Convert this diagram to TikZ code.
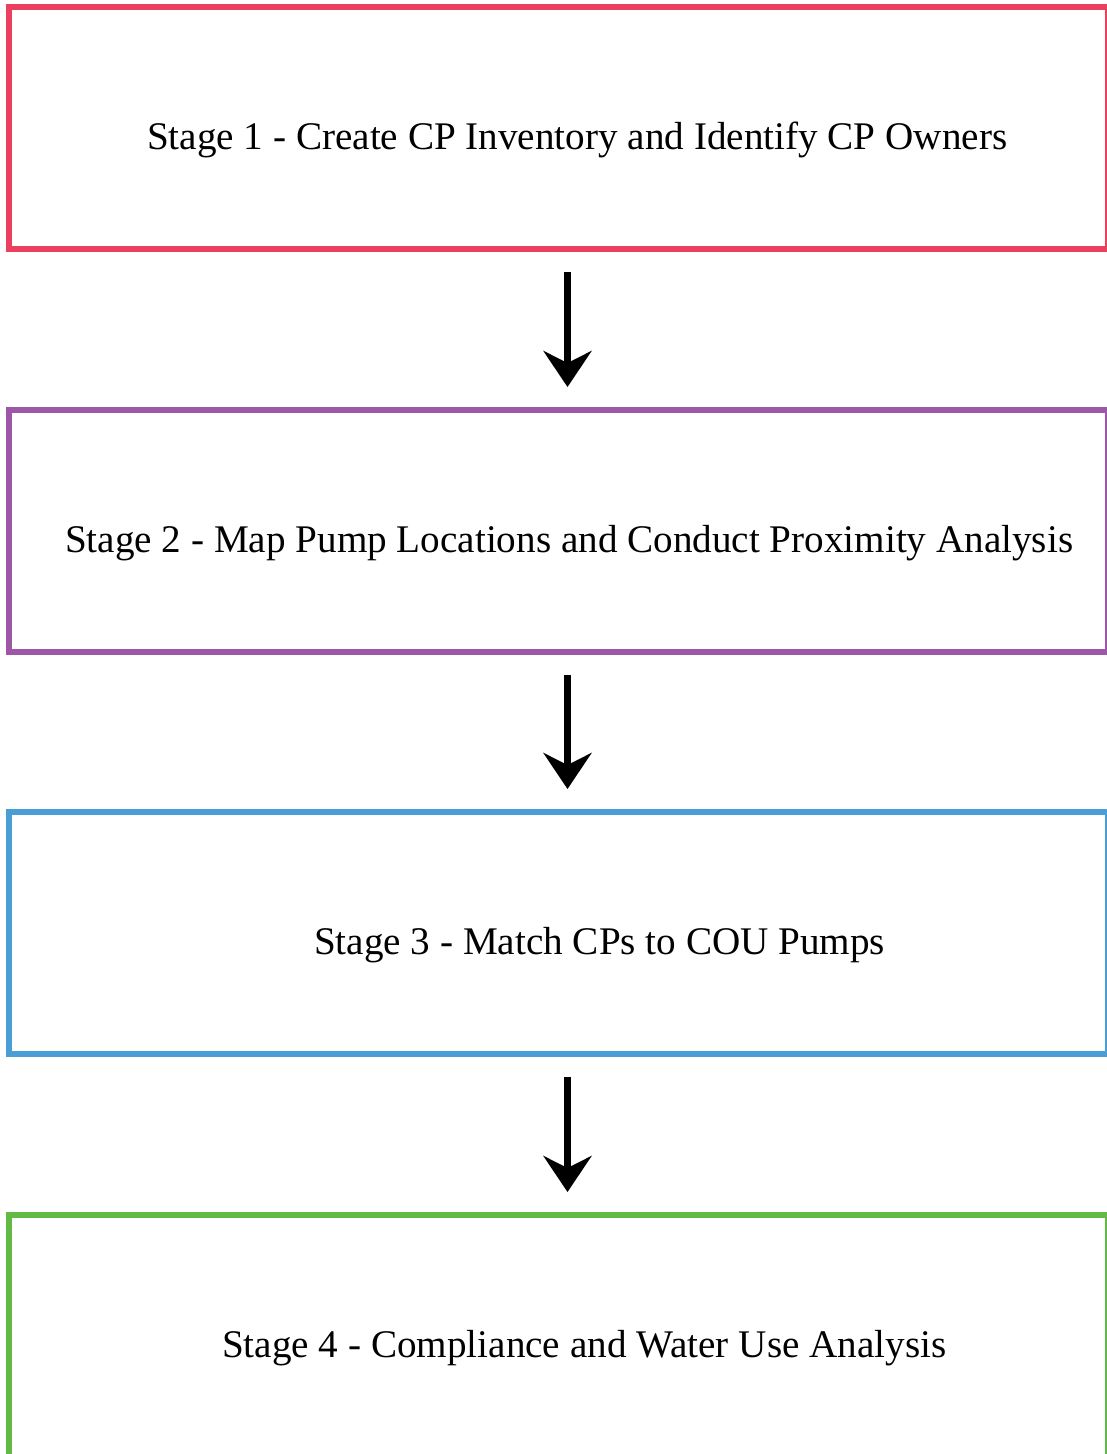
\documentclass[tikz,border=0pt]{standalone}
\usepackage{fontspec}
\setmainfont{Liberation Serif}
\usetikzlibrary{arrows.meta}
\definecolor{stageA}{RGB}{236,64,96}
\definecolor{stageB}{RGB}{158,86,166}
\definecolor{stageC}{RGB}{74,158,214}
\definecolor{stageD}{RGB}{96,186,68}
\tikzset{
  stagebox/.style={draw=#1, line width=6pt, rectangle, minimum width=1099pt, minimum height=242pt, inner sep=0pt},
  stagetext/.style={anchor=base west, inner sep=0pt, font=\fontsize{39.15}{46}\selectfont},
  flow/.style={line width=7pt, -{Stealth[length=36pt, width=48pt, inset=12pt]}, shorten <=20pt, shorten >=20pt}
}
\begin{document}
\begin{tikzpicture}[x=1pt, y=-1pt]
  \useasboundingbox (0,0) rectangle (1107,1454);
  \clip (0,0) rectangle (1107,1454);
  % stage boxes
  \node[stagebox=stageA] (s1) at (558.5,128) {};
  \node[stagebox=stageB] (s2) at (558.5,531) {};
  \node[stagebox=stageC] (s3) at (558.5,933) {};
  \node[stagebox=stageD] (s4) at (558.5,1336) {};
  % stage titles
  \node[stagetext] (t1) at (147,149) {Stage 1 - Create CP Inventory and Identify CP Owners};
  \node[stagetext] (t2) at (65,552) {Stage 2 - Map Pump Locations and Conduct Proximity Analysis};
  \node[stagetext] (t3) at (314,954) {Stage 3 - Match CPs to COU Pumps};
  \node[stagetext] (t4) at (222,1357) {Stage 4 - Compliance and Water Use Analysis};
  % flow arrows
  \draw[flow] ([xshift=9pt]s1.south) -- ([xshift=9pt]s2.north);
  \draw[flow] ([xshift=9pt]s2.south) -- ([xshift=9pt]s3.north);
  \draw[flow] ([xshift=9pt]s3.south) -- ([xshift=9pt]s4.north);
\end{tikzpicture}
\end{document}
